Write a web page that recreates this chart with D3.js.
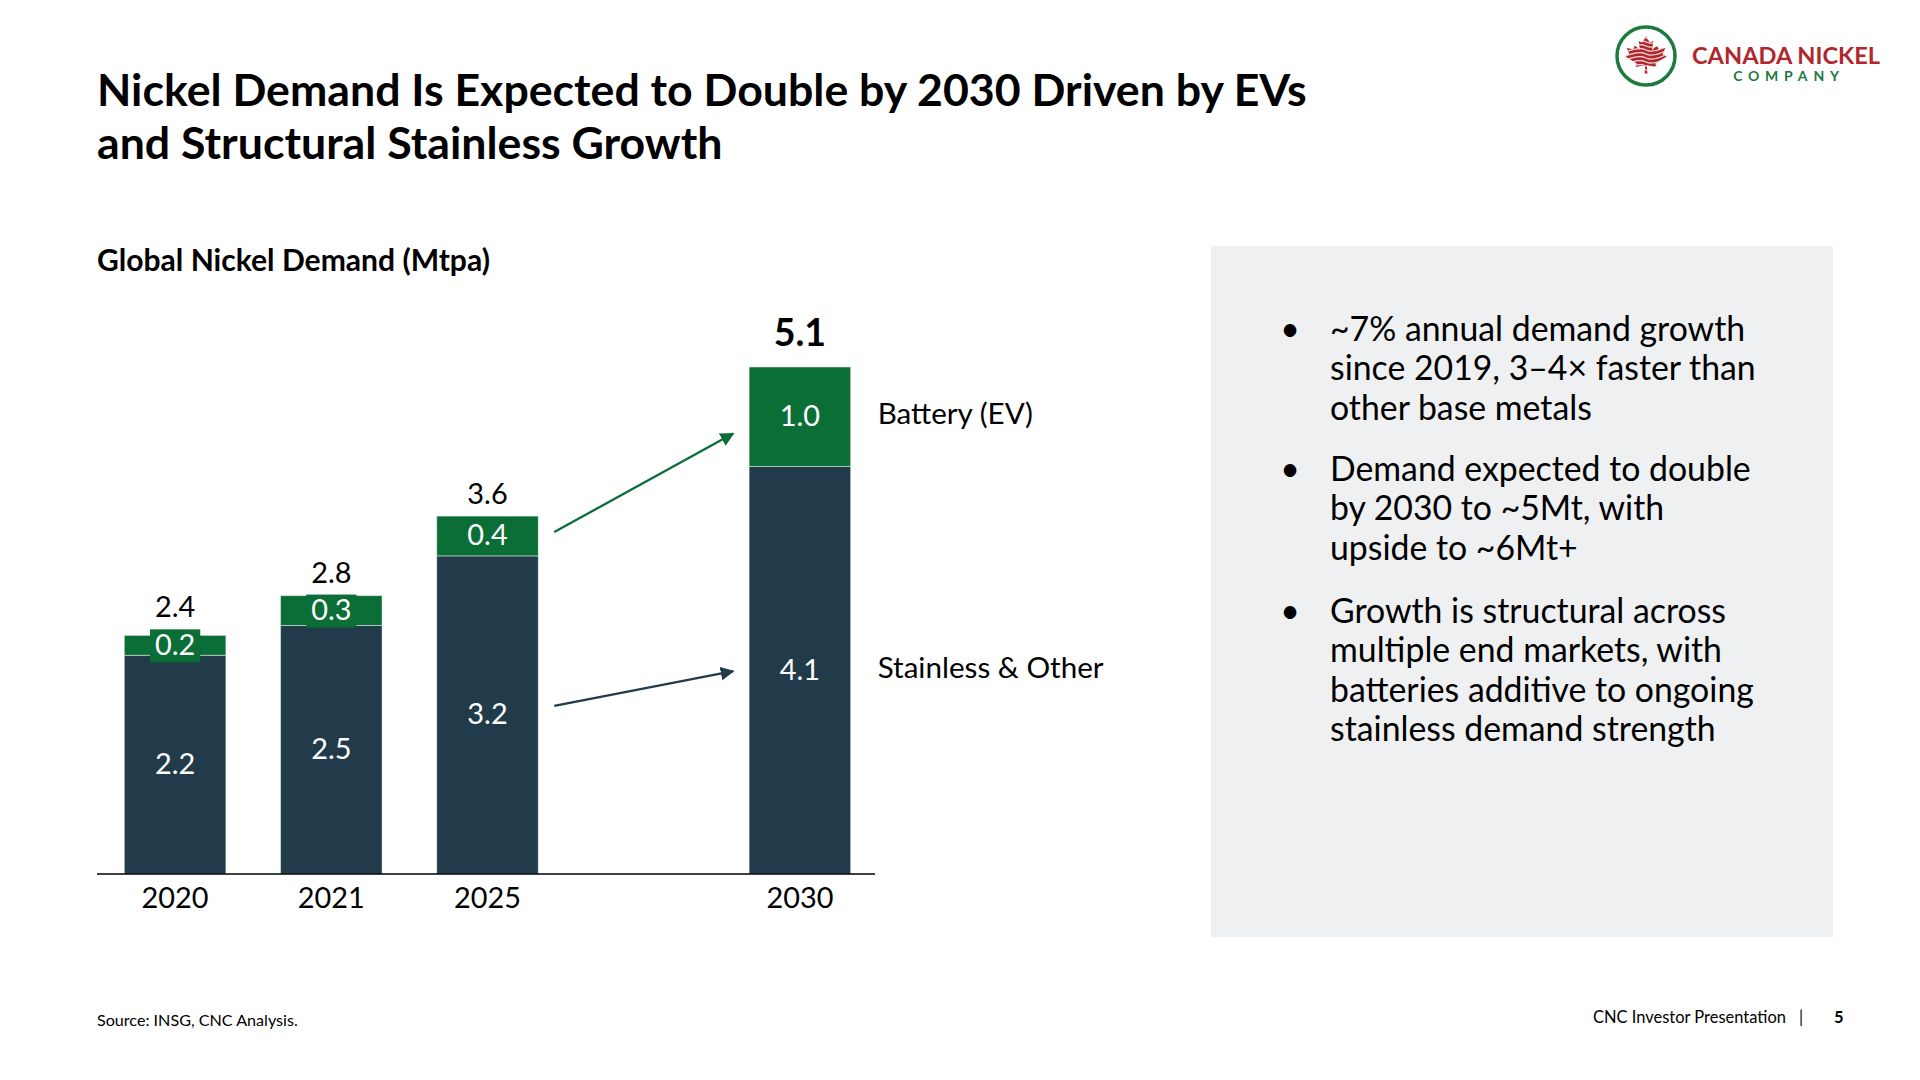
<!DOCTYPE html>
<html>
<head>
<meta charset="utf-8">
<script src="https://cdn.jsdelivr.net/npm/d3@7"></script>
<style>
  body { margin: 0; background: #fff; }
  svg { display: block; }
</style>
</head>
<body>
<div id="chart"></div>
<script>
// Chart data
const years = ["2020", "2021", "2025", "2030"];
const slots = ["2020", "2021", "2025", "gap", "2030"];
const stainless = [2.2, 2.5, 3.2, 4.1];
const battery = [0.2, 0.3, 0.4, 1.0];
const totals = [2.4, 2.8, 3.6, 5.1];
const seriesNames = ["Stainless & Other", "Battery (EV)"];
// arrow annotations (values on the y scale)
const arrowFrom = [1.69, 3.44];
const arrowTo = [2.04, 4.43];

const bullets = [
  ["~7% annual demand growth", "since 2019, 3\u20134\u00d7 faster than", "other base metals"],
  ["Demand expected to double", "by 2030 to ~5Mt, with", "upside to ~6Mt+"],
  ["Growth is structural across", "multiple end markets, with", "batteries additive to ongoing", "stainless demand strength"]
];

const width = 1920;
const height = 1080;
const FONT = "Lato, 'Open Sans', sans-serif";
const dark = "#213b4a";
const green = "#0a6e36";

const svg = d3.select("#chart").append("svg")
    .attr("width", width)
    .attr("height", height)
    .style("font-family", FONT);

svg.append("rect").attr("width", width).attr("height", height).attr("fill", "#fff");

// size a font so a string spans a given width
function fitSize(str, weight, target) {
  const t = svg.append("text").attr("font-weight", weight).attr("font-size", 100).text(str);
  const w = t.node().getComputedTextLength();
  t.remove();
  return 100 * target / w;
}

// Title
const titleSize = fitSize("Nickel Demand Is Expected to Double by 2030 Driven by EVs", 700, 1210);
svg.append("text").attr("x", 97).attr("y", 106)
    .attr("font-size", titleSize).attr("font-weight", 700).attr("fill", "#000")
    .text("Nickel Demand Is Expected to Double by 2030 Driven by EVs");
svg.append("text").attr("x", 97).attr("y", 159)
    .attr("font-size", titleSize).attr("font-weight", 700).attr("fill", "#000")
    .text("and Structural Stainless Growth");

svg.append("text").attr("x", 97).attr("y", 271)
    .attr("font-size", fitSize("Global Nickel Demand (Mtpa)", 700, 393))
    .attr("font-weight", 700).attr("fill", "#000")
    .text("Global Nickel Demand (Mtpa)");

// Logo
const logo = svg.append("g").attr("transform", "translate(1646,56)");
logo.append("circle").attr("r", 29).attr("fill", "none").attr("stroke", "#1b7a3d").attr("stroke-width", 3.5);
const leafPts = [[50,5],[58,20],[66,16],[63,38],[74,27],[78,36],[92,33],[86,48],[95,53],[70,70],[73,78],[52,74],[53,95],[47,95],[48,74],[27,78],[30,70],[5,53],[14,48],[8,33],[22,36],[26,27],[37,38],[34,16],[42,20]];
const leafPath = d3.line()(leafPts.map(p => [(p[0] - 50) * 0.46, (p[1] - 52) * 0.42])) + "Z";
const defs = svg.append("defs");
defs.append("clipPath").attr("id", "leafclip").append("path").attr("d", leafPath);
logo.append("path").attr("d", leafPath).attr("fill", "#b0282e");
const stripes = logo.append("g").attr("clip-path", "url(#leafclip)");
d3.range(-20, 22, 4).forEach(k => {
  stripes.append("path")
      .attr("d", `M-25,${k + 6} Q-8,${k - 2} 0,${k + 2} T25,${k - 4}`)
      .attr("fill", "none").attr("stroke", "#fff").attr("stroke-width", 1.1).attr("opacity", 0.85);
});
svg.append("text").attr("x", 1692).attr("y", 64)
    .attr("font-size", fitSize("CANADA NICKEL", 700, 188))
    .attr("font-weight", 700).attr("fill", "#b0282e")
    .text("CANADA NICKEL");
svg.append("text").attr("x", 1789).attr("y", 81).attr("text-anchor", "middle")
    .attr("font-size", 14).attr("font-weight", 700).attr("letter-spacing", 5.8).attr("fill", "#1b7a3d")
    .text("COMPANY");

// Scales
const x = d3.scaleBand()
    .domain(slots)
    .range([97, 878])
    .paddingInner(0.35)
    .paddingOuter(0.175);

const y = d3.scaleLinear()
    .domain([0, d3.max(totals)])
    .range([874, 367]);

const rows = years.map((yr, i) => ({ year: yr, stainless: stainless[i], battery: battery[i], total: totals[i] }));
const stack = d3.stack().keys(["stainless", "battery"])(rows);
const colors = { stainless: dark, battery: green };

const numSize = fitSize("2020", 400, 67);

const layers = svg.append("g").selectAll("g")
    .data(stack)
    .enter().append("g")
    .attr("fill", d => colors[d.key]);

layers.selectAll("rect")
    .data(d => d)
    .enter().append("rect")
    .attr("x", d => x(d.data.year))
    .attr("y", d => y(d[1]))
    .attr("width", x.bandwidth())
    .attr("height", d => y(d[0]) - y(d[1]))
    .attr("stroke", "#fff")
    .attr("stroke-opacity", 0.45)
    .attr("stroke-width", 1);

// Segment labels (with a backing box where the segment is too thin)
const labelH = numSize * 1.1;
stack.forEach(layer => {
  layer.forEach(d => {
    const cx = x(d.data.year) + x.bandwidth() / 2;
    const cy = (y(d[0]) + y(d[1])) / 2;
    const v = d[1] - d[0];
    const segH = y(d[0]) - y(d[1]);
    const t = svg.append("text")
        .attr("x", cx).attr("y", cy + 2)
        .attr("text-anchor", "middle").attr("dominant-baseline", "middle")
        .attr("font-size", numSize).attr("fill", "#fff")
        .text(d3.format(".1f")(v));
    if (segH < labelH) {
      const bb = t.node().getBBox();
      svg.insert("rect", () => t.node())
          .attr("x", bb.x - 5).attr("y", cy - 16)
          .attr("width", bb.width + 10).attr("height", 33)
          .attr("fill", colors[layer.key]);
    }
  });
});

// Totals above bars
rows.forEach((d, i) => {
  const last = i === rows.length - 1;
  const barTop = y(d.total);
  const boxTop = (y(d.stainless) - y(d.total)) < labelH ? (y(d.total) + y(d.stainless)) / 2 - 16 : barTop;
  svg.append("text")
      .attr("x", x(d.year) + x.bandwidth() / 2)
      .attr("y", last ? barTop - 21 : Math.min(barTop, boxTop) - 12)
      .attr("text-anchor", "middle")
      .attr("font-size", last ? numSize * 1.3 : numSize)
      .attr("font-weight", last ? 700 : 400)
      .attr("fill", "#000")
      .text(d3.format(".1f")(d.total));
});

// X axis
const xAxis = svg.append("g")
    .attr("transform", "translate(0,874)")
    .call(d3.axisBottom(x).tickValues(years).tickSize(0).tickPadding(13));
xAxis.select(".domain").attr("stroke", "#000").attr("stroke-width", 1.6)
    .attr("d", "M97,0H875");
xAxis.selectAll("text")
    .attr("font-family", FONT).attr("font-size", numSize).attr("fill", "#000")
    .attr("dy", "0.71em");

// Series labels beside the 2030 bar
const lastRow = rows[rows.length - 1];
const lastX = x(lastRow.year) + x.bandwidth();
const serSize = fitSize("Stainless & Other", 400, 226);
svg.append("text").attr("x", lastX + 27).attr("y", y(lastRow.stainless / 2))
    .attr("dominant-baseline", "middle").attr("font-size", serSize).attr("fill", "#000")
    .text(seriesNames[0]);
svg.append("text").attr("x", lastX + 27).attr("y", y(lastRow.stainless + lastRow.battery / 2))
    .attr("dominant-baseline", "middle").attr("font-size", serSize).attr("fill", "#000")
    .text(seriesNames[1]);

// Arrows
["stainless", "battery"].forEach((k, i) => {
  defs.append("marker")
      .attr("id", "arrow-" + k)
      .attr("viewBox", "0 0 10 10")
      .attr("refX", 9).attr("refY", 5)
      .attr("markerWidth", 6).attr("markerHeight", 6)
      .attr("markerUnits", "strokeWidth")
      .attr("orient", "auto")
      .append("path").attr("d", "M0,0L10,5L0,10Z").attr("fill", colors[k]);
  svg.append("line")
      .attr("x1", x("2025") + x.bandwidth() + 16).attr("y1", y(arrowFrom[i]))
      .attr("x2", x("2030") - 16).attr("y2", y(arrowTo[i]))
      .attr("stroke", colors[k]).attr("stroke-width", 2.3)
      .attr("marker-end", `url(#arrow-${k})`);
});

// Right panel
svg.append("rect").attr("x", 1211).attr("y", 246).attr("width", 622).attr("height", 691).attr("fill", "#eff0f2");
const bulSize = fitSize("batteries additive to ongoing", 400, 424);
const bulletStart = [341, 481, 623];
bullets.forEach((lines, i) => {
  svg.append("text").attr("x", 1290).attr("y", bulletStart[i]).attr("text-anchor", "middle")
      .attr("font-size", bulSize).attr("fill", "#000").text("\u2022");
  lines.forEach((ln, j) => {
    svg.append("text").attr("x", 1330).attr("y", bulletStart[i] + j * 39.4)
        .attr("font-size", bulSize).attr("fill", "#000").text(ln);
  });
});

// Footer
svg.append("text").attr("x", 97).attr("y", 1026)
    .attr("font-size", fitSize("Source: INSG, CNC Analysis.", 400, 201)).attr("fill", "#000")
    .text("Source: INSG, CNC Analysis.");
const footSize = fitSize("CNC Investor Presentation", 400, 193);
svg.append("text").attr("x", 1593).attr("y", 1023).attr("font-size", footSize).attr("fill", "#000")
    .text("CNC Investor Presentation");
svg.append("text").attr("x", 1799).attr("y", 1023).attr("font-size", footSize).attr("fill", "#000").text("|");
svg.append("text").attr("x", 1834).attr("y", 1023).attr("font-size", footSize).attr("font-weight", 700).attr("fill", "#000").text("5");
</script>
</body>
</html>
